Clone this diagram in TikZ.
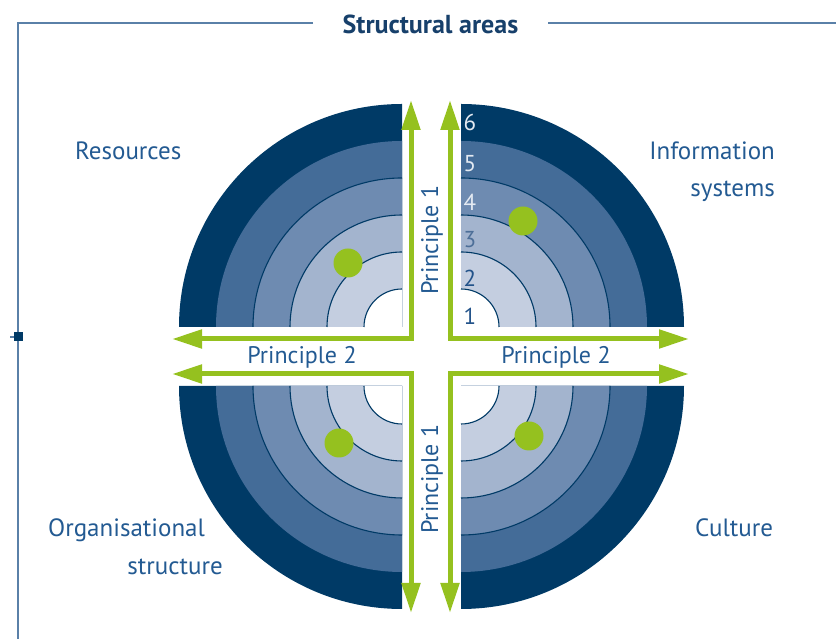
\documentclass[tikz,border=0pt]{standalone}
\usepackage{fontspec}
\setmainfont{PT Sans}
\usetikzlibrary{arrows.meta}
\definecolor{ringE}{HTML}{003A66}
\definecolor{ringD}{HTML}{446C98}
\definecolor{ringC}{HTML}{6E8BB1}
\definecolor{ringB}{HTML}{A3B4CE}
\definecolor{ringA}{HTML}{C4CEE0}
\definecolor{gr}{HTML}{95C11F}
\definecolor{txtblue}{HTML}{235A92}
\definecolor{titleblue}{HTML}{17406B}
\definecolor{framecol}{HTML}{5A80A8}
\definecolor{numlight}{HTML}{E4EAF2}
\definecolor{nummid}{HTML}{4D6F98}
\definecolor{numdark}{HTML}{23538A}
\tikzset{
  ringline/.style={draw=ringE, line width=1.1pt},
  garrow/.style={draw=gr, line width=5pt, line join=miter,
     {Triangle[length=30pt,width=18pt]}-{Triangle[length=30pt,width=18pt]}},
  lbl/.style={inner sep=0pt, text=txtblue, font=\fontsize{25}{30}\selectfont},
  prin/.style={inner sep=0pt, text=txtblue, font=\fontsize{24}{28}\selectfont},
  num/.style={inner sep=0pt, font=\fontsize{23}{26}\selectfont},
  dot/.style={fill=gr, circle, minimum size=29pt, inner sep=0pt},
  framel/.style={draw=framecol, line width=2pt}
}
\begin{document}
\begin{tikzpicture}[x=1pt,y=1pt]
\useasboundingbox (0,0) rectangle (836,639);
% frame
\draw[framel] (313,616) -- (18,616) -- (18,0);
\draw[framel] (548,616) -- (836,616);
\draw[draw=framecol, line width=1.5pt] (10,302) -- (14,302);
\fill[ringE] (13.5,297.5) rectangle (22.5,306.5);
\node[inner sep=0pt, anchor=base, text=titleblue, font=\fontsize{26}{30}\selectfont\bfseries] (title) at (430.5,605) {Structural areas};
% quadrants
\foreach \cx/\cy/\a in {402/312/90, 461/312/0, 402/253/180, 461/253/270} {
  \foreach \r/\c in {223/ringE,186/ringD,149/ringC,112/ringB,75/ringA,38/white} {
    \fill[\c] (\cx,\cy) -- ++(\a:\r) arc[start angle=\a, end angle=\a+90, radius=\r] -- cycle;
  }
  \foreach \r in {38,75,112,149} {
    \draw[ringline] (\cx,\cy) ++(\a:\r) arc[start angle=\a, end angle=\a+90, radius=\r];
  }
}
% dots
\node[dot] (d1) at (348,376) {};
\node[dot] (d2) at (523,418) {};
\node[dot] (d3) at (339,196) {};
\node[dot] (d4) at (529,203) {};
% arrows
\coordinate (tlt) at (411,539);
\coordinate (tlc) at (411,300);
\coordinate (tll) at (172,300);
\coordinate (trt) at (450,539);
\coordinate (trc) at (450,300);
\coordinate (trr) at (689,300);
\coordinate (blb) at (411,26);
\coordinate (blc) at (411,265);
\coordinate (bll) at (172,265);
\coordinate (brb) at (450,26);
\coordinate (brc) at (450,265);
\coordinate (brr) at (689,265);
\draw[garrow] (tlt) -- (tlc) -- (tll);
\draw[garrow] (trt) -- (trc) -- (trr);
\draw[garrow] (bll) -- (blc) -- (blb);
\draw[garrow] (brr) -- (brc) -- (brb);
% principles
\node[prin, rotate=90] (p1t) at (432,399) {Principle 1};
\node[prin, rotate=90] (p1b) at (432,160) {Principle 1};
\node[prin] (p2l) at (302,282) {Principle 2};
\node[prin] (p2r) at (556,282) {Principle 2};
% numbers
\node[num, text=numlight] (n6) at (470,517) {6};
\node[num, text=numlight] (n5) at (470,475) {5};
\node[num, text=numlight] (n4) at (470,437) {4};
\node[num, text=nummid] (n3) at (470,399) {3};
\node[num, text=numdark] (n2) at (470,361) {2};
\node[num, text=numdark] (n1) at (470,323) {1};
% labels
\node[lbl, anchor=base west] (res) at (75,479) {Resources};
\node[lbl, anchor=base east] (inf1) at (775,479) {Information};
\node[lbl, anchor=base east] (inf2) at (775,442) {systems};
\node[lbl, anchor=base west] (org1) at (48,102) {Organisational};
\node[lbl, anchor=base east] (org2) at (223,64) {structure};
\node[lbl, anchor=base west] (cul) at (695,102) {Culture};
\end{tikzpicture}
\end{document}
